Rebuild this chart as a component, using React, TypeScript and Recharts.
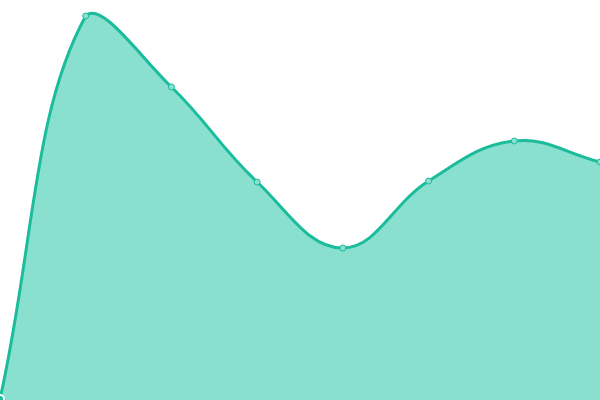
import { AreaChart, Area, XAxis, YAxis } from "recharts";

const categories = ["A", "B", "C", "D", "E", "F", "G", "H"];
const values = [1, 384, 313, 218, 152, 219, 259, 238];

const data = categories.map((name, i) => ({ name, value: values[i] }));

// spline with tension, control points kept inside the plot box
function tensionCurve(t: number, x0: number, y0: number, x1: number, y1: number) {
  const clamp = (v: number, lo: number, hi: number) => Math.max(lo, Math.min(hi, v));
  return (ctx: any) => {
    let pts: number[][] = [];
    let line = NaN;
    return {
      areaStart() { line = 0; },
      areaEnd() { line = NaN; },
      lineStart() { pts = []; },
      point(x: number, y: number) { pts.push([+x, +y]); },
      lineEnd() {
        const n = pts.length;
        if (n) {
          if (line) ctx.lineTo(pts[0][0], pts[0][1]);
          else ctx.moveTo(pts[0][0], pts[0][1]);
          const prevCp: number[][] = [];
          const nextCp: number[][] = [];
          for (let i = 0; i < n; i++) {
            const p = pts[i - 1] || pts[i];
            const c = pts[i];
            const nx = pts[i + 1] || pts[i];
            const d01 = Math.hypot(c[0] - p[0], c[1] - p[1]);
            const d12 = Math.hypot(nx[0] - c[0], nx[1] - c[1]);
            let s01 = d01 / (d01 + d12);
            let s12 = d12 / (d01 + d12);
            if (isNaN(s01)) s01 = 0;
            if (isNaN(s12)) s12 = 0;
            const fa = t * s01;
            const fb = t * s12;
            prevCp.push([
              clamp(c[0] - fa * (nx[0] - p[0]), x0, x1),
              clamp(c[1] - fa * (nx[1] - p[1]), y0, y1),
            ]);
            nextCp.push([
              clamp(c[0] + fb * (nx[0] - p[0]), x0, x1),
              clamp(c[1] + fb * (nx[1] - p[1]), y0, y1),
            ]);
          }
          for (let i = 0; i < n - 1; i++) {
            ctx.bezierCurveTo(
              nextCp[i][0], nextCp[i][1],
              prevCp[i + 1][0], prevCp[i + 1][1],
              pts[i + 1][0], pts[i + 1][1]
            );
          }
        }
        if (line || (line !== 0 && n === 1)) ctx.closePath();
        line = 1 - line;
      },
    };
  };
}

const curve = tensionCurve(0.4, 0, 0, 600, 400);

export default function App() {
  return (
    <div style={{ position: "absolute", top: 0, left: 0 }}>
      <AreaChart width={600} height={400} data={data} margin={{ top: 0, right: 0, bottom: 0, left: 0 }}>
        <XAxis dataKey="name" hide />
        <YAxis hide domain={[0, 400]} />
        <Area
          type={curve as any}
          dataKey="value"
          stroke="#1abc9c"
          strokeWidth={3}
          fill="#8ae0cf"
          fillOpacity={1}
          dot={{ r: 3, fill: "#8ae0cf", stroke: "#1abc9c", strokeWidth: 1 }}
          isAnimationActive={false}
        />
      </AreaChart>
    </div>
  );
}
